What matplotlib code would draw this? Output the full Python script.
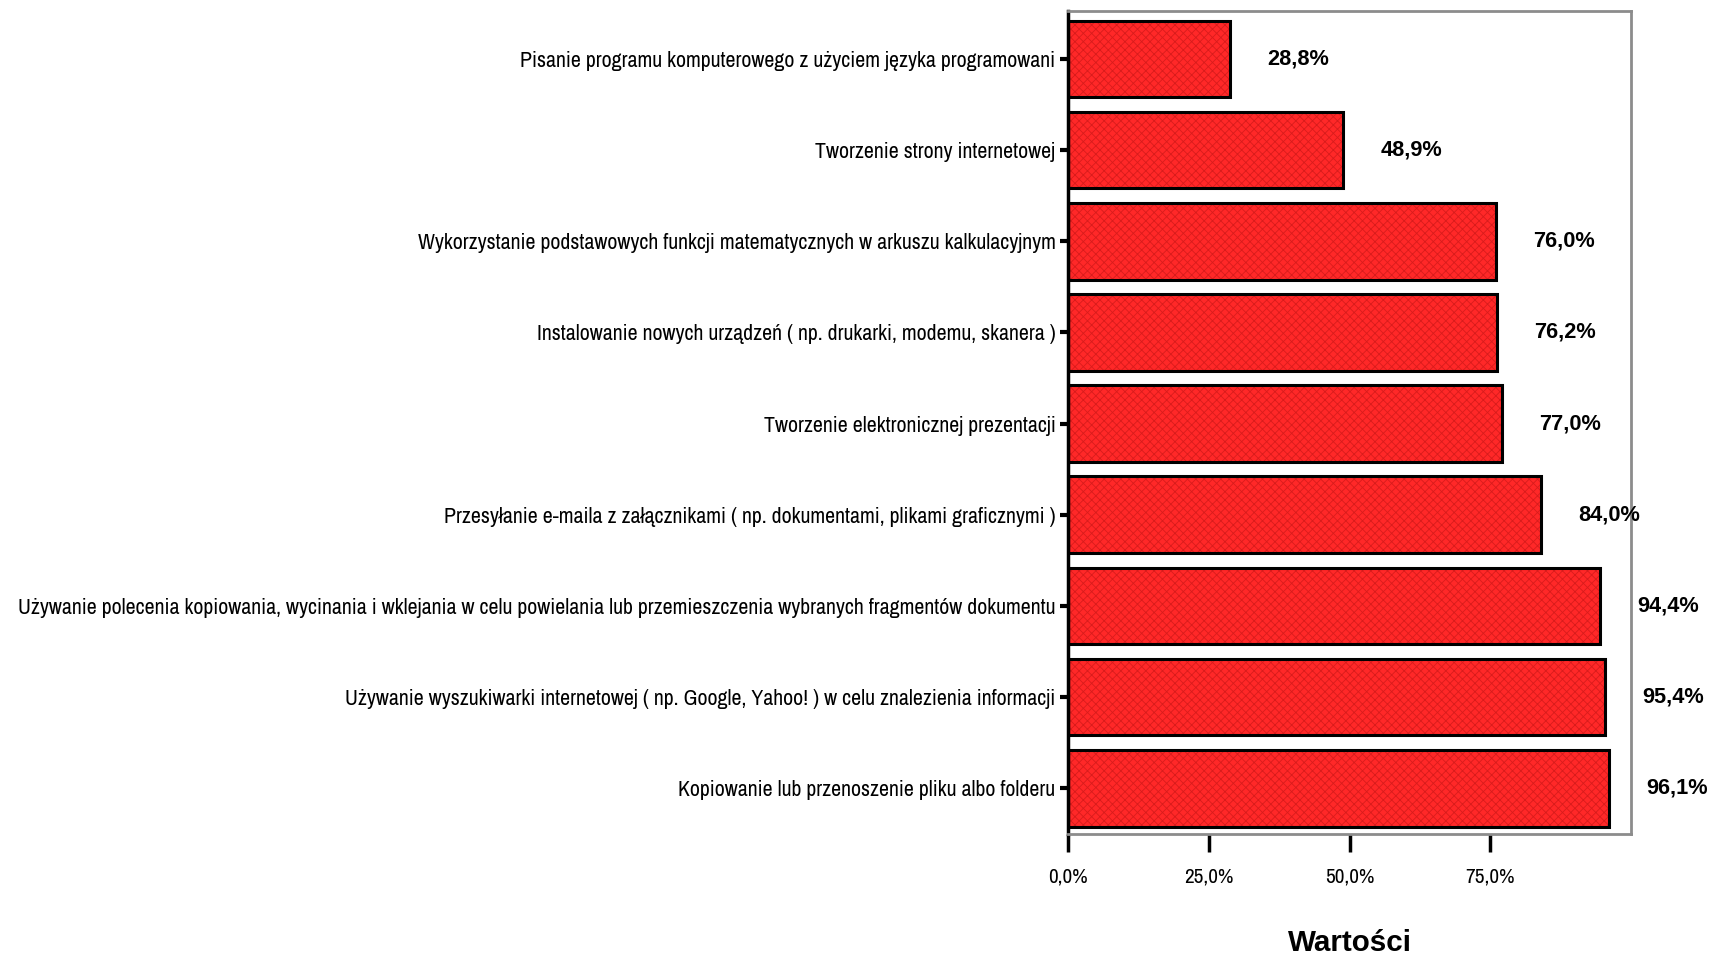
import matplotlib
matplotlib.use("Agg")
import matplotlib.pyplot as plt
from matplotlib import font_manager as fm

categories = [
    "Pisanie programu komputerowego z użyciem języka programowani",
    "Tworzenie strony internetowej",
    "Wykorzystanie podstawowych funkcji matematycznych w arkuszu kalkulacyjnym",
    "Instalowanie nowych urządzeń ( np. drukarki, modemu, skanera )",
    "Tworzenie elektronicznej prezentacji",
    "Przesyłanie e-maila z załącznikami ( np. dokumentami, plikami graficznymi )",
    "Używanie polecenia kopiowania, wycinania i wklejania w celu powielania lub przemieszczenia wybranych fragmentów dokumentu",
    "Używanie wyszukiwarki internetowej ( np. Google, Yahoo! ) w celu znalezienia informacji",
    "Kopiowanie lub przenoszenie pliku albo folderu",
]
values = [28.8, 48.9, 76.0, 76.2, 77.0, 84.0, 94.4, 95.4, 96.1]
value_labels = ["28,8%", "48,9%", "76,0%", "76,2%", "77,0%", "84,0%", "94,4%", "95,4%", "96,1%"]
xticks = [0, 25, 50, 75]
xtick_labels = ["0,0%", "25,0%", "50,0%", "75,0%"]
xlabel = "Wartości"


def _w(f):
    w = f.weight
    if isinstance(w, str):
        return 700 if "bold" in w.lower() else 400
    return w


# Prefer a narrow font if one is installed
narrow = None
for f in fm.fontManager.ttflist:
    if "Narrow" in f.name or "Condensed" in f.name:
        narrow = f.name
        break
regular_fam = [narrow, "DejaVu Sans"] if narrow else ["Liberation Sans", "DejaVu Sans"]
has_bold = narrow is not None and any(
    f.name == narrow and _w(f) >= 600 for f in fm.fontManager.ttflist)
bold_fam = regular_fam if has_bold else ["Liberation Sans", "DejaVu Sans"]

plt.rcParams["font.family"] = regular_fam
plt.rcParams["hatch.linewidth"] = 0.6

fig = plt.figure(figsize=(17.17, 9.64), dpi=100)
ax = fig.add_axes([0.622, 0.135, 0.328, 0.854])

ypos = list(range(len(categories)))
ax.barh(ypos, values, height=0.84, color="#FF2828", edgecolor="#D81C1C",
        hatch="xxxx", linewidth=0, zorder=2)
ax.barh(ypos, values, height=0.84, color="none", edgecolor="black",
        linewidth=2.2, zorder=3)

vtexts = []
for y, v, lab in zip(ypos, values, value_labels):
    t = ax.annotate(lab, xy=(v, y), xytext=(27, 0), textcoords="offset points",
                    ha="left", va="center", fontsize=15, fontweight="bold",
                    family=bold_fam, color="black")
    vtexts.append(t)

ax.set_xlim(0, 100)
ax.set_ylim(8.5, -0.53)
ax.set_yticks(ypos)
ax.set_yticklabels(categories, fontsize=14)
ax.set_xticks(xticks)
ax.set_xticklabels(xtick_labels, fontsize=13)
ax.tick_params(axis="y", length=6, width=3, pad=3, color="black")
ax.tick_params(axis="x", length=13, width=2.5, pad=11, color="black", direction="out")

xl = ax.set_xlabel(xlabel, fontsize=22, fontweight="bold", family=bold_fam, labelpad=31)

for s in ["top", "right", "bottom"]:
    ax.spines[s].set_color("#8C8C8C")
    ax.spines[s].set_linewidth(2)
ax.spines["left"].set_color("black")
ax.spines["left"].set_linewidth(2.5)

# fit the texts to the widths they occupy in the reference
fig.canvas.draw()
r = fig.canvas.get_renderer()


def fit(texts, ref_text, target, lo, hi):
    w = ref_text.get_window_extent(r).width
    fs = ref_text.get_fontsize() * target / w
    fs = max(lo, min(hi, fs))
    for t in texts:
        t.set_fontsize(fs)


ylabels = ax.get_yticklabels()
longest = max(ylabels, key=lambda t: t.get_window_extent(r).width)
fit(ylabels, longest, 1037.0, 9, 17)
xlabels = ax.get_xticklabels()
fit(xlabels, xlabels[1], 49.0, 9, 16)
fit(vtexts, vtexts[0], 62.0, 11, 21)
fit([xl], xl, 124.0, 16, 28)

fig.savefig("out.png", dpi=100, facecolor="white")
